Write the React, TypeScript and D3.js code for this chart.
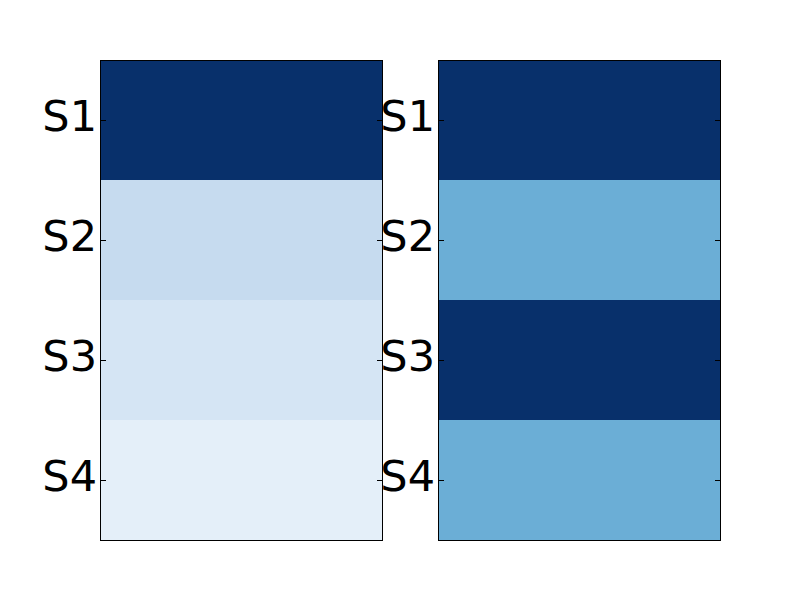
import React from "react";
import * as d3 from "d3";

// row labels, shared by both panels
const rows = ["S1", "S2", "S3", "S4"];
// values (Blues colormap, 0..1)
const leftValues = [1.0, 0.25, 0.17, 0.095];
const rightValues = [1.0, 0.5, 1.0, 0.5];

// matplotlib "Blues" stops
const bluesStops = ["#f7fbff", "#deebf7", "#c6dbef", "#9ecae1", "#6baed6", "#4292c6", "#2171b5", "#08519c", "#08306b"];

const W = 800;
const H = 600;

function Panel({ x0, x1, y0, y1, values }) {
    const y = d3.scaleBand().domain(rows).range([y0, y1]).padding(0);
    const color = d3.scaleLinear<string>()
        .domain(bluesStops.map((_, i) => i / (bluesStops.length - 1)))
        .range(bluesStops)
        .interpolate(d3.interpolateRgb);
    const tickLen = 6;

    return (
        <g>
            {rows.map((r, i) => (
                <rect key={r} x={x0} y={y(r)} width={x1 - x0} height={y.bandwidth()} fill={color(values[i])} />
            ))}
            <rect x={x0 + 0.5} y={y0 + 0.5} width={x1 - x0} height={y1 - y0} fill="none" stroke="#000" strokeWidth={1} />
            {rows.map((r) => {
                const cy = Math.round(y(r)! + y.bandwidth() / 2) + 0.5;
                return (
                    <g key={r}>
                        <line x1={x0} x2={x0 + tickLen} y1={cy} y2={cy} stroke="#000" strokeWidth={1} />
                        <line x1={x1 - tickLen + 1} x2={x1 + 1} y1={cy} y2={cy} stroke="#000" strokeWidth={1} />
                        <text
                            x={x0 - 3}
                            y={y(r)! + y.bandwidth() / 2 + 11}
                            textAnchor="end"
                            fontFamily="DejaVu Sans"
                            fontSize="43px"
                            fill="#000"
                        >
                            {r}
                        </text>
                    </g>
                );
            })}
        </g>
    );
}

export default function App() {
    return (
        <div style={{ position: "fixed", left: 0, top: 0 }}>
            <svg width={W} height={H} style={{ display: "block", background: "#fff" }}>
                <rect width={W} height={H} fill="#fff" />
                <Panel x0={100} x1={382} y0={60} y1={540} values={leftValues} />
                <Panel x0={438} x1={720} y0={60} y1={540} values={rightValues} />
            </svg>
        </div>
    );
}
